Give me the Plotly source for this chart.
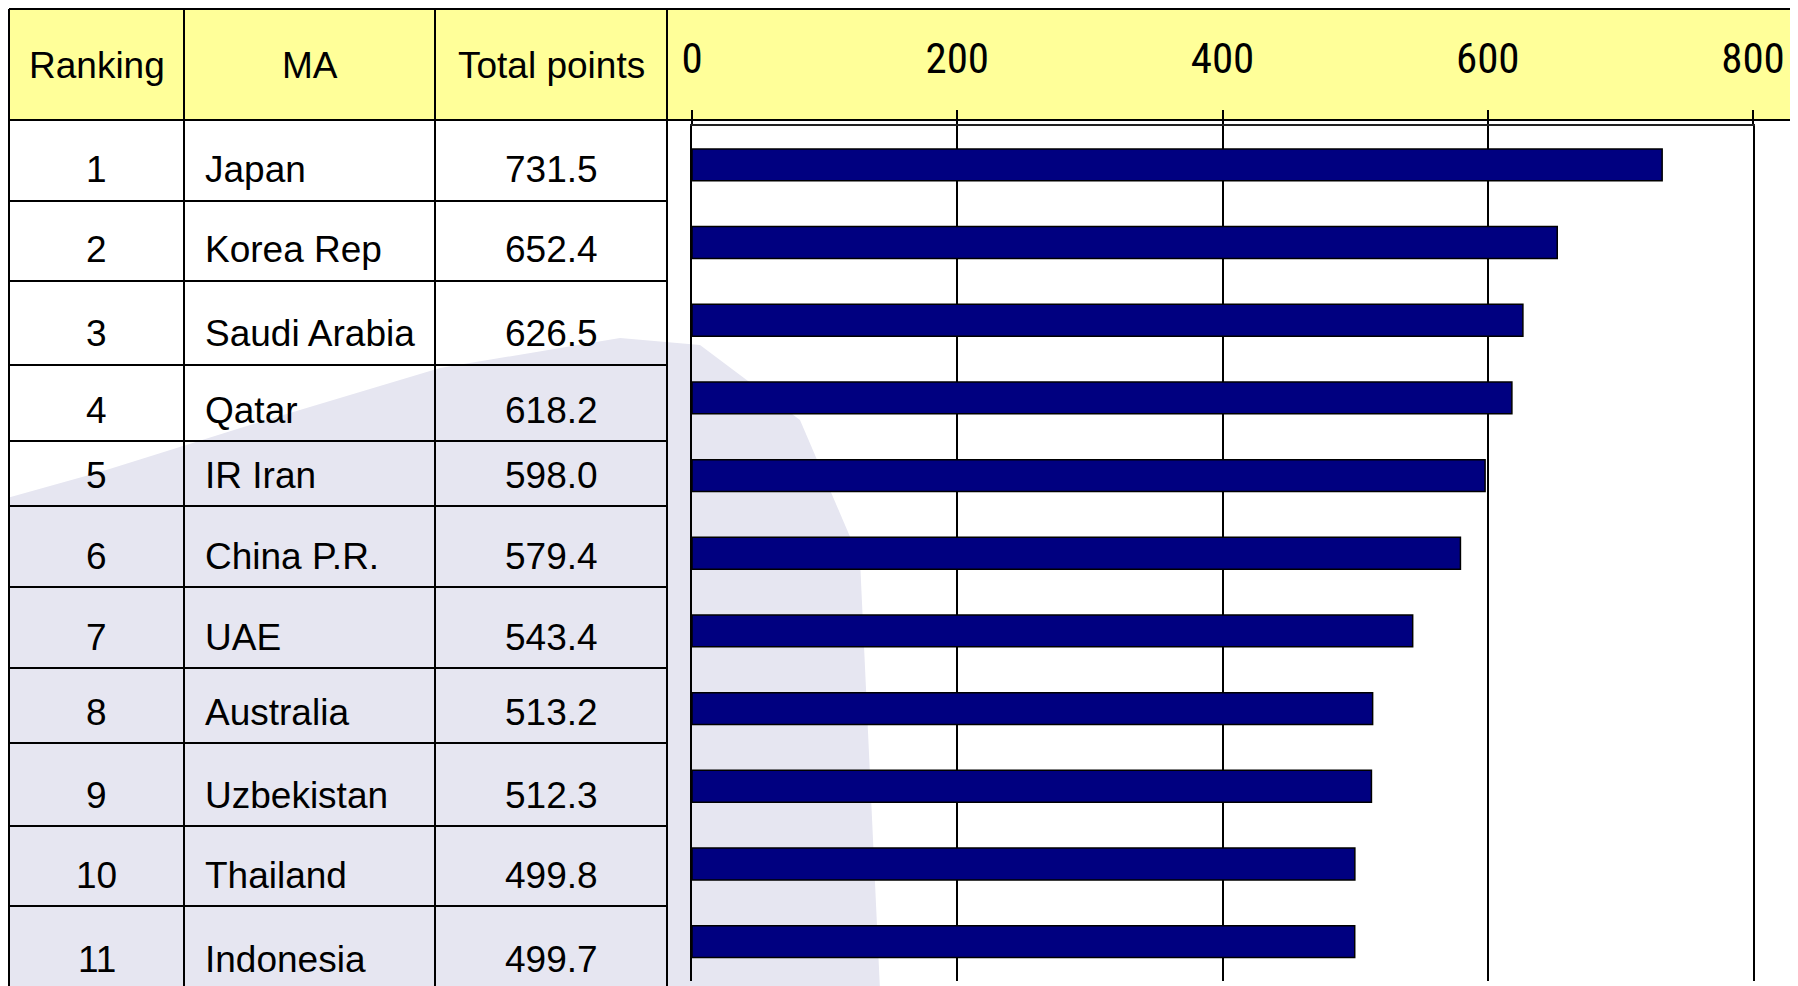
import plotly.graph_objects as go

# ---- data ----
ranks = [1, 2, 3, 4, 5, 6, 7, 8, 9, 10, 11]
teams = ["Japan", "Korea Rep", "Saudi Arabia", "Qatar", "IR Iran", "China P.R.",
         "UAE", "Australia", "Uzbekistan", "Thailand", "Indonesia"]
points = [731.5, 652.4, 626.5, 618.2, 598.0, 579.4, 543.4, 513.2, 512.3, 499.8, 499.7]
headers = ["Ranking", "MA", "Total points"]
x_ticks = [0, 200, 400, 600, 800]

# ---- layout geometry (screen pixels; page body has an 8px margin) ----
OFF = 8
W, H = 1798 - OFF, 986 - OFF
def px(x):
    return (x - OFF) / W
def py(y):
    return 1 - (y - OFF) / H

col_x = [9, 184, 435, 667, 1795]
header_top, header_bot = 9, 120
row_bottoms = [201, 281, 365, 441, 506, 587, 668, 743, 826, 906, 990]
plot_left, plot_right = 692, 1753
plot_top, plot_bot = 126, 980.5

TABLE_FONT = "Liberation Sans, Arial, sans-serif"
TICK_FONT = "Roboto Condensed, Liberation Sans, sans-serif"
YELLOW = "#FFFF99"
NAVY = "#000080"
LAV = "#E6E6F1"

fig = go.Figure()
fig.add_trace(go.Bar(
    x=points, y=teams, orientation="h",
    marker=dict(color=NAVY, line=dict(color="black", width=1.5)),
    width=0.41, hoverinfo="x+y",
))

shapes = []
# faint background watermark (approximate)
wm = [(0, 500), (100, 472), (250, 425), (440, 368), (620, 338), (700, 345),
      (800, 420), (860, 560), (880, 990), (0, 990)]
path = "M " + " L ".join(f"{px(x):.5f},{py(y):.5f}" for x, y in wm) + " Z"
shapes.append(dict(type="path", xref="paper", yref="paper", path=path,
                   fillcolor=LAV, line=dict(width=0), layer="below"))
# header background
shapes.append(dict(type="rect", xref="paper", yref="paper",
                   x0=px(col_x[0]), x1=px(col_x[-1]), y0=py(header_bot), y1=py(header_top),
                   fillcolor=YELLOW, line=dict(width=0), layer="below"))
line_style = dict(color="black", width=2)
for yy in (header_top, header_bot):
    shapes.append(dict(type="line", xref="paper", yref="paper",
                       x0=px(col_x[0]), x1=px(col_x[-1]), y0=py(yy), y1=py(yy),
                       line=line_style))
for xx in col_x:
    shapes.append(dict(type="line", xref="paper", yref="paper",
                       x0=px(xx), x1=px(xx), y0=py(header_top), y1=py(990),
                       line=line_style))
for yy in row_bottoms[:-1]:
    shapes.append(dict(type="line", xref="paper", yref="paper",
                       x0=px(col_x[0]), x1=px(col_x[3]), y0=py(yy), y1=py(yy),
                       line=line_style))

annotations = []
centers = [(col_x[0] + col_x[1]) / 2, (col_x[1] + col_x[2]) / 2, (col_x[2] + col_x[3]) / 2]
for h, cx in zip(headers, centers):
    annotations.append(dict(xref="paper", yref="paper", x=px(cx), y=py(65),
                            text=h, showarrow=False, xanchor="center", yanchor="middle",
                            font=dict(family=TABLE_FONT, size=37, color="black")))
for i, (r, t, p) in enumerate(zip(ranks, teams, points)):
    yc = row_bottoms[i] - 31
    annotations.append(dict(xref="paper", yref="paper", x=px(centers[0]), y=py(yc),
                            text=str(r), showarrow=False, xanchor="center", yanchor="middle",
                            font=dict(family=TABLE_FONT, size=37, color="black")))
    annotations.append(dict(xref="paper", yref="paper", x=px(203), y=py(yc),
                            text=t, showarrow=False, xanchor="left", yanchor="middle",
                            font=dict(family=TABLE_FONT, size=37, color="black")))
    annotations.append(dict(xref="paper", yref="paper", x=px(centers[2]), y=py(yc),
                            text=f"{p:.1f}", showarrow=False, xanchor="center", yanchor="middle",
                            font=dict(family=TABLE_FONT, size=37, color="black")))

fig.update_layout(
    width=W, height=H,
    margin=dict(l=0, r=0, t=0, b=0, autoexpand=False),
    paper_bgcolor="white", plot_bgcolor="rgba(0,0,0,0)",
    showlegend=False,
    shapes=shapes, annotations=annotations,
    xaxis=dict(domain=[px(plot_left), px(plot_right)], range=[0, 800], side="top",
               tickvals=x_ticks, ticktext=[str(v) for v in x_ticks],
               ticks="outside", ticklen=14, tickwidth=2, tickcolor="black",
               showline=True, linecolor="#222", linewidth=2,
               showgrid=True, gridcolor="black", gridwidth=1.5,
               zeroline=False, ticklabelstandoff=20, automargin=False,
               tickfont=dict(family=TICK_FONT, size=43, color="black"),
               fixedrange=True),
    yaxis=dict(domain=[py(plot_bot), py(plot_top)], autorange="reversed",
               categoryorder="array", categoryarray=teams,
               showticklabels=False, ticks="", showgrid=False, zeroline=False,
               showline=True, mirror=True, linecolor="black", linewidth=1.5,
               automargin=False, fixedrange=True),
)

fig.write_html("out.html")
